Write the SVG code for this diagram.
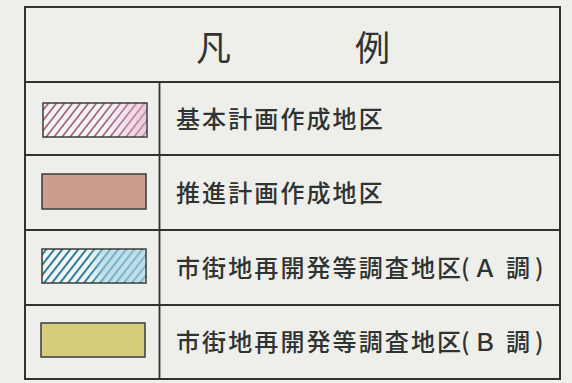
<svg xmlns="http://www.w3.org/2000/svg" width="572" height="383" viewBox="0 0 572 383">
<style>
.bg{fill:#eeefeb}
.tbl{fill:none;stroke:#2e3230;stroke-width:2}
.ln{stroke:#2e3230;stroke-width:1.8}
.sw{stroke:#3a3d3c;stroke-width:1.5}
.t{font-family:"Noto Sans CJK JP","Noto Sans CJK SC",sans-serif;font-size:24px;font-weight:500;fill:#2f3331;letter-spacing:2.1px}
.title{font-family:"Noto Sans CJK JP","Noto Sans CJK SC",sans-serif;font-size:35px;fill:#2f3331}
</style>
<defs>
<pattern id="hp" width="6.3" height="10" patternUnits="userSpaceOnUse" patternTransform="rotate(38)">
<rect width="6.3" height="10" fill="#f6f5f3"/>
<line x1="1" y1="0" x2="1" y2="10" stroke="#a3577a" stroke-width="1.6"/>
</pattern>
<pattern id="tp" width="6.3" height="10" patternUnits="userSpaceOnUse" patternTransform="rotate(38)">
<rect width="6.3" height="10" fill="#f4f7f6"/>
<line x1="1" y1="0" x2="1" y2="10" stroke="#2b7c98" stroke-width="2"/>
</pattern>
<linearGradient id="pk" x1="0" y1="0" x2="1" y2="0">
<stop offset="0.6" stop-color="#e8b8d0" stop-opacity="0"/>
<stop offset="1" stop-color="#e0b0d0" stop-opacity="0.6"/>
</linearGradient>
<linearGradient id="bl" x1="0" y1="0" x2="1" y2="0">
<stop offset="0.45" stop-color="#9fd0e0" stop-opacity="0"/>
<stop offset="0.6" stop-color="#9fd0e0" stop-opacity="0.6"/>
<stop offset="1" stop-color="#a8d6e4" stop-opacity="0.7"/>
</linearGradient>
</defs>
<rect class="bg" x="0" y="0" width="572" height="383"/>
<g id="frame">
<rect class="tbl" x="25" y="7" width="535" height="372"/>
<line class="ln" x1="25" y1="82" x2="560" y2="82"/>
<line class="ln" x1="25" y1="155" x2="560" y2="155"/>
<line class="ln" x1="25" y1="230" x2="560" y2="230"/>
<line class="ln" x1="25" y1="305" x2="560" y2="305"/>
<line class="ln" x1="159.5" y1="82" x2="159.5" y2="379"/>
</g>
<g id="title">
<text class="title" x="196" y="61">凡</text>
<text class="title" x="355" y="61">例</text>
</g>
<g id="row1">
<rect class="sw" x="43" y="103" width="104" height="34" fill="url(#hp)"/>
<rect x="44" y="104" width="102" height="32" fill="url(#pk)"/>
<text class="t" x="176" y="127.5">基本計画作成地区</text>
</g>
<g id="row2">
<rect class="sw" x="42" y="174" width="104" height="35" fill="#cc9d8e"/>
<text class="t" x="176" y="201.5">推進計画作成地区</text>
</g>
<g id="row3">
<rect class="sw" x="42" y="249" width="104" height="34" fill="url(#tp)"/>
<rect x="43" y="250" width="102" height="32" fill="url(#bl)"/>
<text class="t" x="176 202.1 228.2 254.3 280.4 306.5 332.6 358.7 384.8 410.9 437 461 473 506 535" y="276.5">市街地再開発等調査地区(Ａ調)</text>
</g>
<g id="row4">
<rect class="sw" x="41" y="323" width="104" height="34" fill="#d6ce7c"/>
<text class="t" x="176 202.1 228.2 254.3 280.4 306.5 332.6 358.7 384.8 410.9 437 461 473 506 535" y="351">市街地再開発等調査地区(Ｂ調)</text>
</g>
</svg>
